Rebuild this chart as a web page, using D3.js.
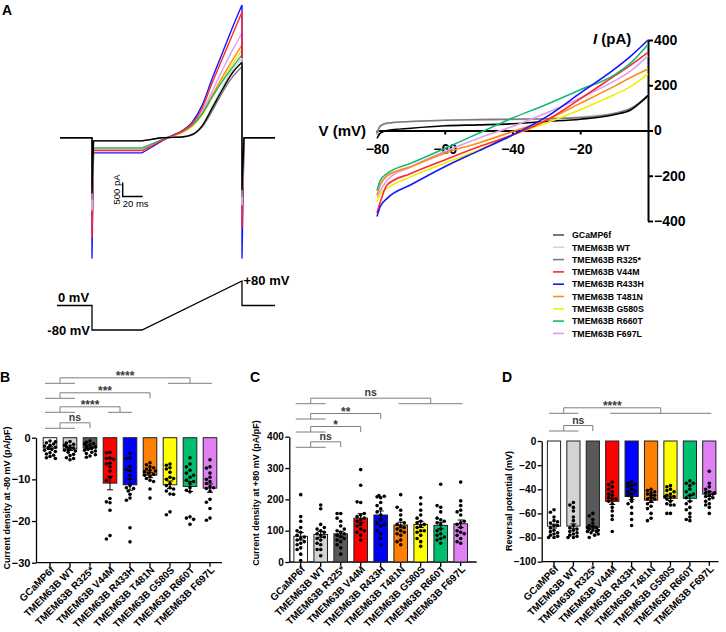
<!DOCTYPE html>
<html>
<head>
<meta charset="utf-8">
<script src="https://cdn.jsdelivr.net/npm/d3@7"></script>
<style>
body { margin: 0; background: #fff; }
text { font-family: "Liberation Sans", Arial, Helvetica, sans-serif; font-weight: bold; }
</style>
</head>
<body>
<svg id="fig" width="726" height="632"></svg>
<script>
// ---- data ----
var groups = ["GCaMP6f", "TMEM63B WT", "TMEM63B R325*", "TMEM63B V44M", "TMEM63B R433H",
	"TMEM63B T481N", "TMEM63B G580S", "TMEM63B R660T", "TMEM63B F697L"];
var barColors = ["#ffffff", "#d3d3d3", "#595959", "#ff0000", "#0000ff", "#ff7f00", "#ffff00", "#00bf6f", "#df80f2"];
var lineColors = ["#000000", "#d2d2d2", "#7a7a7a", "#ff2a2a", "#1414ff", "#ff8a14", "#f2ee00", "#14b878", "#dd9ef0"];

// A: current traces (pA) vs time (ms); ramp from t=50 to t=150
var rampTimes = [0, 10, 20, 30, 40, 50, 60, 70, 80, 90, 100];
var traceHold = [-110, -120, -100, -460, -540, -390, -420, -360, -390];
var traceSpikeOn = [-1970, -2580, -2200, -3570, -4300, -2100, -2100, -2100, -2100];
var traceSpikeOff = [-1860, -2400, -2100, -3220, -4300, -2000, -2000, -2000, -2000];
var traceRamp = [
	[-110, -55, 0, 15, 30, 110, 420, 1050, 1700, 2300, 2700],
	[-120, -60, 0, 20, 40, 130, 450, 1100, 1800, 2400, 2850],
	[-100, -50, 0, 15, 30, 100, 380, 950, 1600, 2150, 2540],
	[-460, -290, -100, 70, 230, 500, 1050, 1950, 2800, 3650, 4500],
	[-540, -330, -110, 80, 250, 550, 1150, 2100, 3000, 3900, 4750],
	[-390, -240, -80, 60, 200, 430, 850, 1500, 2150, 2750, 3320],
	[-420, -260, -90, 50, 180, 400, 800, 1420, 2050, 2620, 3150],
	[-360, -220, -70, 70, 220, 450, 850, 1450, 2000, 2500, 2970],
	[-390, -240, -80, 70, 220, 480, 950, 1650, 2400, 3100, 3750]
];
var traceOrder = [6, 5, 8, 7, 4, 3, 1, 2, 0];

// voltage protocol
var protocolT = [-35, 0, 0, 50, 150, 150, 183];
var protocolV = [0, 0, -80, -80, 80, 0, 0];

// A right: I-V curves
var ivV = [-80, -79, -77, -70, -60, -50, -40, -30, -20, -10, -5, 0];
var ivI = [
	[-35, -12, 0, 10, 21, 25, 30, 40, 50, 70, 92, 155],
	[-20, 18, 30, 40, 45, 48, 48, 52, 60, 77, 100, 158],
	[-10, 20, 33, 40, 45, 48, 50, 52, 57, 75, 98, 150],
	[-365, -315, -240, -190, -130, -72, -20, 45, 140, 240, 290, 345],
	[-380, -335, -300, -240, -160, -90, -20, 60, 165, 270, 330, 400],
	[-285, -240, -200, -160, -100, -55, -5, 47, 120, 195, 235, 272],
	[-315, -280, -255, -205, -145, -86, -20, 33, 92, 158, 195, 250],
	[-265, -220, -190, -145, -80, -12, 55, 115, 180, 245, 300, 380],
	[-295, -265, -220, -160, -93, -34, 18, 77, 144, 218, 265, 330]
];
var ivOrder = [1, 2, 0, 8, 5, 6, 3, 7, 4];
var ivYTicks = [-400, -200, 0, 200, 400];
var ivXTicks = [-80, -60, -40, -20];

// B: current density at -80 mV
var meansB = [-2.5, -2.7, -2.5, -10.9, -11.3, -9.0, -11.3, -11.7, -12.1];
var semsB = [0.35, 0.35, 0.3, 1.6, 1.3, 0.6, 0.9, 1.2, 1.0];
var pointsB = [
	[-0.8, -1.2, -1.5, -1.8, -2.0, -2.3, -2.5, -2.8, -3.0, -3.3, -3.6, -3.9, -4.2, -4.5, -4.8, -5.0, -1.0],
	[-0.9, -1.3, -1.6, -2.0, -2.2, -2.5, -2.7, -3.0, -3.2, -3.5, -4.0, -4.3, -4.8, -5.0, -5.3, -1.8, -2.9],
	[-0.8, -1.1, -1.4, -1.7, -2.0, -2.2, -2.5, -2.8, -3.0, -3.2, -3.5, -3.8, -4.1, -4.4, -4.7, -1.5, -2.6],
	[-3.5, -3.6, -4.9, -5.0, -6.1, -6.3, -8.0, -9.5, -10.2, -14.6, -15.4, -15.6, -17.4, -23.5, -24.3, -5.2, -7.0],
	[-3.7, -4.9, -5.0, -6.9, -7.7, -7.8, -10.0, -11.5, -12.0, -12.2, -13.6, -14.5, -15.0, -21.6, -25.0, -9.0, -12.8],
	[-6.0, -6.5, -7.0, -7.2, -7.5, -7.8, -8.0, -8.2, -8.5, -8.8, -9.0, -9.3, -9.8, -10.2, -10.5, -12.3, -14.5],
	[-6.3, -6.6, -7.2, -7.5, -8.3, -9.5, -10.0, -11.0, -11.5, -12.0, -12.3, -12.8, -13.5, -13.6, -17.8, -18.5, -9.8],
	[-4.8, -6.3, -7.0, -7.8, -8.5, -9.5, -10.2, -11.0, -12.0, -12.6, -13.0, -19.0, -19.3, -19.6, -20.8, -9.0, -10.5],
	[-5.3, -7.0, -7.3, -9.5, -10.0, -10.5, -11.0, -11.8, -12.2, -12.8, -14.8, -15.5, -17.0, -19.3, -19.8, -8.5, -12.0]
];
var ticksB = [0, -10, -20, -30];

// C: current density at +80 mV
var meansC = [82, 88, 90, 140, 150, 118, 120, 117, 122];
var semsC = [12, 9, 8, 14, 13, 9, 10, 10, 12];
var pointsC = [
	[5, 25, 45, 55, 60, 65, 70, 75, 80, 85, 95, 100, 110, 130, 145, 215, 40],
	[20, 40, 55, 60, 70, 75, 80, 85, 90, 95, 100, 105, 110, 120, 170, 182, 40],
	[25, 45, 55, 65, 70, 75, 80, 85, 90, 95, 100, 105, 115, 130, 140, 155, 155],
	[70, 85, 95, 105, 115, 120, 130, 135, 140, 145, 150, 155, 190, 192, 245, 295, 100],
	[55, 75, 90, 100, 115, 125, 135, 150, 160, 170, 180, 190, 205, 208, 210, 212, 120],
	[55, 65, 70, 85, 90, 100, 105, 110, 115, 120, 125, 135, 150, 165, 175, 215, 95],
	[50, 65, 75, 85, 95, 100, 110, 115, 120, 125, 130, 140, 150, 165, 185, 205, 100],
	[60, 70, 75, 80, 90, 100, 105, 120, 125, 130, 135, 140, 160, 175, 180, 248, 85],
	[60, 65, 75, 85, 95, 100, 110, 120, 125, 130, 150, 160, 165, 180, 195, 255, 90]
];
var ticksC = [0, 100, 200, 300, 400];

// D: reversal potential
var meansD = [-70.5, -70.5, -71.5, -50, -46, -49, -47.5, -47.5, -44];
var semsD = [1.6, 1.8, 1.2, 2.6, 2.6, 2.0, 1.8, 2.2, 2.0];
var pointsD = [
	[-57, -59, -63, -66, -68, -70, -72, -74, -75, -76, -77, -78, -79, -80, -80, -70, -67],
	[-51, -53, -55, -58, -63, -66, -70, -72, -74, -75, -76, -77, -78, -79, -80, -80, -73],
	[-60, -62, -65, -68, -70, -71, -72, -73, -74, -75, -75, -76, -77, -78, -80, -74, -72],
	[-34, -36, -38, -40, -42, -45, -47, -48, -50, -52, -55, -58, -62, -65, -75, -44, -48],
	[-34, -35, -36, -37, -38, -40, -42, -44, -45, -47, -50, -52, -55, -60, -65, -70, -41],
	[-40, -41, -42, -43, -44, -45, -47, -48, -50, -52, -54, -56, -60, -64, -66, -45, -48],
	[-37, -38, -40, -41, -42, -44, -45, -46, -47, -48, -50, -52, -53, -53, -60, -60, -46],
	[-33, -35, -35, -37, -40, -42, -45, -47, -50, -52, -55, -57, -60, -63, -65, -66, -44],
	[-25, -35, -38, -40, -42, -43, -44, -45, -46, -47, -48, -50, -52, -53, -55, -60, -43]
];
var ticksD = [0, -20, -40, -60, -80, -100];

// significance comparisons: left group vs right group
var sigB = [
	{ left: [0, 1], right: [2], label: "ns" },
	{ left: [0, 1], right: [3, 4], label: "****" },
	{ left: [0, 1], right: [5], label: "***" },
	{ left: [0, 1], right: [6, 7, 8], label: "****" }
];
var sigC = [
	{ left: [0, 1], right: [2], label: "ns" },
	{ left: [0, 1], right: [3], label: "*" },
	{ left: [0, 1], right: [4], label: "**" },
	{ left: [0, 1], right: [5, 6, 7, 8], label: "ns" }
];
var sigD = [
	{ left: [0, 1], right: [2], label: "ns" },
	{ left: [0, 1], right: [3, 4, 5, 6, 7, 8], label: "****" }
];

// ---- drawing ----
var svg = d3.select("#fig");

function panelLetter(txt, x, y) {
	svg.append("text").attr("x", x).attr("y", y)
		.style("font-size", "14px").text(txt);
}

panelLetter("A", 2, 15);
panelLetter("B", 0, 382);
panelLetter("C", 250, 382);
panelLetter("D", 502, 382);

// A: traces
var tScale = d3.scaleLinear().domain([-32, 183]).range([60, 275]);
var iScale = d3.scaleLinear().domain([-4300, 4750]).range([258, 5]);
var linGen = d3.line()
	.x(function(d) { return tScale(d[0]); })
	.y(function(d) { return iScale(d[1]); });
var monoGen = d3.line().curve(d3.curveMonotoneX)
	.x(function(d) { return tScale(d[0]); })
	.y(function(d) { return iScale(d[1]); });

var traceG = svg.append("g");
traceOrder.forEach(function(g) {
	var ramp = traceRamp[g];
	var peak = ramp[ramp.length - 1];
	var pre = [[-32, 0], [0, 0], [0, traceSpikeOn[g]], [1.5, traceHold[g]], [50, traceHold[g]]];
	var mid = rampTimes.map(function(t, k) { return [50 + t, ramp[k]]; });
	var post = [[150, peak], [150, traceSpikeOff[g]], [152, 0], [183, 0]];
	traceG.append("path")
		.attr("d", linGen(pre) + monoGen(mid) + linGen(post))
		.attr("fill", "none")
		.attr("stroke", lineColors[g])
		.attr("stroke-width", 1.4)
		.attr("stroke-linejoin", "round");
});

// scale bar: 500 pA, 20 ms
var sbT = 30.7, sbI = -2100;
traceG.append("path")
	.attr("d", "M" + tScale(sbT) + "," + iScale(sbI + 500) + "V" + iScale(sbI) + "H" + tScale(sbT + 20))
	.attr("fill", "none").attr("stroke", "#000").attr("stroke-width", 1.4);
traceG.append("text")
	.attr("transform", "translate(" + (tScale(sbT) - 3) + "," + iScale(sbI + 250) + ") rotate(-90)")
	.attr("text-anchor", "middle")
	.style("font-size", "9.5px").style("font-weight", "normal")
	.text("500 pA");
traceG.append("text")
	.attr("x", tScale(sbT)).attr("y", iScale(sbI) + 10.5)
	.style("font-size", "9.5px").style("font-weight", "normal")
	.text("20 ms");

// voltage protocol
var vpScale = d3.scaleLinear().domain([-80, 80]).range([330, 281]);
svg.append("path")
	.attr("d", d3.line()
		.x(function(d, i) { return tScale(protocolT[i]); })
		.y(function(d, i) { return vpScale(protocolV[i]); })(protocolT))
	.attr("fill", "none").attr("stroke", "#000").attr("stroke-width", 1.3);
svg.append("text").attr("x", tScale(-34)).attr("y", vpScale(0) - 4)
	.style("font-size", "13px").text("0 mV");
svg.append("text").attr("x", tScale(-2)).attr("y", vpScale(-80) + 4.5)
	.attr("text-anchor", "end").style("font-size", "13px").text("-80 mV");
svg.append("text").attr("x", tScale(151.5)).attr("y", vpScale(80) + 4)
	.style("font-size", "13px").text("+80 mV");

// A right: I-V
var vScale = d3.scaleLinear().domain([-80, 0]).range([377, 648]);
var ivScale = d3.scaleLinear().domain([-400, 400]).range([221, 40]);
var ivG = svg.append("g");

var ivYAxis = ivG.append("g").attr("transform", "translate(" + vScale(0) + ",0)")
	.call(d3.axisRight(ivScale).tickValues(ivYTicks).tickSize(5).tickSizeOuter(0).tickPadding(1));
var ivXAxis = ivG.append("g").attr("transform", "translate(0," + ivScale(0) + ")")
	.call(d3.axisBottom(vScale).tickValues(ivXTicks).tickSize(4).tickSizeOuter(0).tickPadding(10));
[ivYAxis, ivXAxis].forEach(function(a) {
	a.selectAll("path,line").attr("stroke", "#000").attr("stroke-width", 2);
	a.selectAll("text").style("font-size", "14px").attr("fill", "#000")
		.style("font-family", "Liberation Sans, Arial, sans-serif").style("font-weight", "bold");
});

var ivLine = d3.line().curve(d3.curveMonotoneX)
	.x(function(d, i) { return vScale(ivV[i]); })
	.y(function(d) { return ivScale(d); });
ivOrder.forEach(function(g) {
	ivG.append("path")
		.attr("d", ivLine(ivI[g]))
		.attr("fill", "none")
		.attr("stroke", lineColors[g])
		.attr("stroke-width", 1.6);
});

ivG.append("text").attr("x", vScale(-80) - 11).attr("y", ivScale(0) + 5.5)
	.attr("text-anchor", "end").style("font-size", "15px").text("V (mV)");
var iLab = ivG.append("text").attr("x", vScale(0) - 55).attr("y", ivScale(400) + 4)
	.style("font-size", "15px");
iLab.append("tspan").style("font-style", "italic").text("I");
iLab.append("tspan").text(" (pA)");

// legend
var legend = svg.append("g").attr("transform", "translate(553,235)");
groups.forEach(function(name, i) {
	var row = legend.append("g").attr("transform", "translate(0," + (i * 12.3) + ")");
	row.append("line").attr("x1", 0).attr("x2", 11).attr("y1", 0).attr("y2", 0)
		.attr("stroke", i === 0 ? "#555" : lineColors[i]).attr("stroke-width", 1.6);
	row.append("text").attr("x", 19).attr("y", 3.2)
		.style("font-size", "8.8px").text(name);
});

// dot placement inside a bar, no overlap
function dodge(vals, y, r) {
	var offs = [0, -3.6, 3.6, -1.8, 1.8, -5.4, 5.4];
	var placed = [];
	var out = vals.map(function() { return 0; });
	vals.forEach(function(v, i) {
		var py = y(v);
		var best = 0, bestD = -1;
		for (var k = 0; k < offs.length; k++) {
			var md = Infinity;
			placed.forEach(function(p) {
				var d = Math.hypot(p[0] - offs[k], p[1] - py);
				if (d < md) md = d;
			});
			if (md >= 2 * r) { best = offs[k]; bestD = md; break; }
			if (md > bestD) { bestD = md; best = offs[k]; }
		}
		placed.push([best, py]);
		out[i] = best;
	});
	return out;
}

function barPanel(p) {
	var x = d3.scaleBand().domain(groups).range(p.xRange);
	var y = d3.scaleLinear().domain(p.yDomain).range(p.yRange);
	var g = svg.append("g");
	var bw = x.bandwidth() * 0.68;
	var cx = function(i) { return x(groups[i]) + x.bandwidth() / 2; };

	// axes
	var yAx = g.append("g").attr("transform", "translate(" + p.axisX + ",0)")
		.call(d3.axisLeft(y).tickValues(p.ticks).tickSize(4).tickSizeOuter(0).tickPadding(1.5));
	yAx.selectAll("path,line").attr("stroke", "#000").attr("stroke-width", 1.3);
	yAx.selectAll("text").style("font-size", p.tickFont).attr("fill", "#000")
		.style("font-family", "Liberation Sans, Arial, sans-serif").style("font-weight", "bold");

	var xAxisY = y(p.yDomain[0]);
	g.append("line").attr("x1", p.axisX).attr("x2", p.xEnd)
		.attr("y1", xAxisY).attr("y2", xAxisY)
		.attr("stroke", "#000").attr("stroke-width", 1.3);
	groups.forEach(function(name, i) {
		g.append("line").attr("x1", cx(i)).attr("x2", cx(i))
			.attr("y1", xAxisY).attr("y2", xAxisY + 4)
			.attr("stroke", "#000").attr("stroke-width", 1.3);
		g.append("text")
			.attr("transform", "translate(" + (cx(i) + 5) + "," + (xAxisY + 8) + ") rotate(-45)")
			.attr("text-anchor", "end")
			.style("font-size", "10px")
			.text(name);
	});

	// y label
	g.append("text")
		.attr("transform", "translate(" + p.labelX + "," + p.labelY + ") rotate(-90)")
		.attr("text-anchor", "middle")
		.style("font-size", "9px")
		.text(p.label);

	// bars
	g.selectAll("rect.bar").data(p.means).enter().append("rect")
		.attr("x", function(d, i) { return cx(i) - bw / 2; })
		.attr("y", function(d) { return Math.min(y(0), y(d)); })
		.attr("width", bw)
		.attr("height", function(d) { return Math.abs(y(d) - y(0)); })
		.attr("fill", function(d, i) { return barColors[i]; })
		.attr("stroke", "#222").attr("stroke-width", 1);

	// points
	p.points.forEach(function(vals, i) {
		var offs = dodge(vals, y, 1.8);
		g.selectAll(null).data(vals).enter().append("circle")
			.attr("cx", function(d, k) { return cx(i) + offs[k]; })
			.attr("cy", function(d) { return y(d); })
			.attr("r", 1.8)
			.attr("fill", "#000");
	});

	// error bars
	p.means.forEach(function(m, i) {
		var lo = y(m - p.sems[i]), hi = y(m + p.sems[i]);
		g.append("path")
			.attr("d", "M" + cx(i) + "," + lo + "V" + hi +
				"M" + (cx(i) - 3) + "," + lo + "H" + (cx(i) + 3) +
				"M" + (cx(i) - 3) + "," + hi + "H" + (cx(i) + 3))
			.attr("stroke", "#000").attr("stroke-width", 1).attr("fill", "none");
	});

	// significance brackets
	p.sig.forEach(function(s, k) {
		var yLo = p.sigY[k], yHi = yLo - 5.5;
		var lc = d3.mean(s.left, cx), rc = d3.mean(s.right, cx);
		var path = "";
		[[s.left, 5, lc], [s.right, 2, rc]].forEach(function(grp) {
			var idx = grp[0];
			if (idx.length > 1) {
				path += "M" + (cx(idx[0]) - grp[1]) + "," + yLo + "H" + (cx(idx[idx.length - 1]) + grp[1]);
			}
			path += "M" + grp[2] + "," + yLo + "V" + yHi;
		});
		path += "M" + lc + "," + yHi + "H" + rc;
		g.append("path").attr("d", path)
			.attr("fill", "none").attr("stroke", "#7f7f7f").attr("stroke-width", 1);
		var star = s.label.indexOf("*") >= 0;
		g.append("text")
			.attr("x", (lc + rc) / 2)
			.attr("y", star ? yHi + 2.5 : yHi - 2)
			.attr("text-anchor", "middle")
			.attr("fill", "#3a3a3a")
			.style("font-size", star ? "12px" : "10.5px")
			.text(s.label);
	});
}

barPanel({
	xRange: [40, 220], axisX: 36, xEnd: 222,
	yDomain: [-30, 0], yRange: [562.7, 437.7], ticks: ticksB, tickFont: "11px",
	means: meansB, sems: semsB, points: pointsB,
	label: "Current density at -80 mV (pA/pF)", labelX: 10, labelY: 498,
	sig: sigB, sigY: [428.3, 412.3, 398.3, 383.3]
});
barPanel({
	xRange: [290.7, 470.7], axisX: 289.3, xEnd: 476.7,
	yDomain: [0, 400], yRange: [562, 436.7], ticks: ticksC, tickFont: "10px",
	means: meansC, sems: semsC, points: pointsC,
	label: "Current density at +80 mV (pA/pF)", labelX: 258.5, labelY: 493,
	sig: sigC, sigY: [447.3, 432, 419, 403.7]
});
barPanel({
	xRange: [544.3, 719], axisX: 541.7, xEnd: 718.5,
	yDomain: [-100, 0], yRange: [561.7, 441], ticks: ticksD, tickFont: "10px",
	means: meansD, sems: semsD, points: pointsD,
	label: "Reversal potential (mV)", labelX: 512, labelY: 501,
	sig: sigD, sigY: [431, 413.3]
});
</script>
</body>
</html>
